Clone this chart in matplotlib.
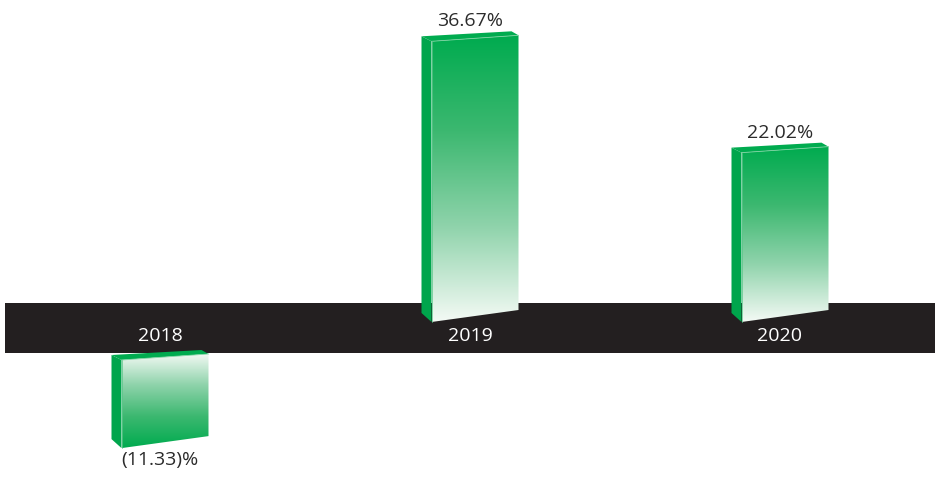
import matplotlib
matplotlib.use("Agg")
import matplotlib.pyplot as plt
import numpy as np
from matplotlib.colors import LinearSegmentedColormap
from matplotlib.patches import Polygon

years = ["2018", "2019", "2020"]
returns = [-11.33, 36.67, 22.02]
value_labels = ["(11.33)%", "36.67%", "22.02%"]

GREEN = "#00ab4f"
SIDE = "#00a54c"
BAND = "#231f20"
TEXT = "#2b2b2b"
FONT = "Open Sans"

FIG_W, FIG_H = 939, 481
PX_PER_CAT = 310.0   # horizontal pixels between category centres
PX_PER_PCT = 7.6     # vertical pixels per percentage point
X0_PX = 160          # pixel x of the first category centre
Y0_PX = 318          # pixel y (from top) of zero


def px_x(n):
    return n / PX_PER_CAT


def px_y(n):
    return n / PX_PER_PCT


grad_cmap = LinearSegmentedColormap.from_list(
    "fade", ["#f4faf5", "#8fd3ab", "#3cb870", GREEN], N=256
)

fig = plt.figure(figsize=(FIG_W / 100, FIG_H / 100), dpi=100)
ax = fig.add_axes([0, 0, 1, 1])
ax.set_xlim(-px_x(X0_PX), px_x(FIG_W - X0_PX))
ax.set_ylim(-px_y(FIG_H - Y0_PX), px_y(Y0_PX))
ax.axis("off")

band_top = px_y(14)
band_bottom = -px_y(36)
ax.axhspan(band_bottom, band_top, xmin=5 / FIG_W, xmax=935 / FIG_W,
           color=BAND, zorder=1, lw=0)

for i, (year, val, lab) in enumerate(zip(years, returns, value_labels)):
    if val >= 0:
        lo, hi = 0.0, val
    else:
        hi = band_bottom - px_y(4)
        lo = hi + val

    xl = i - px_x(48.5)
    xf = xl + px_x(10)
    xr = xl + px_x(97)
    bl, br = lo - px_y(5), lo + px_y(7)
    tl, tr = hi - px_y(3), hi + px_y(3)

    side = Polygon([(xl, bl + px_y(9)), (xf, bl), (xf, tl), (xl, tl + px_y(5))],
                   closed=True, fc=SIDE, ec="none", zorder=3)
    ax.add_patch(side)
    top = Polygon([(xl, tl + px_y(5)), (xf, tl), (xr, tr),
                   (xr - px_x(7), tr + px_y(4))],
                  closed=True, fc=GREEN, ec="none", zorder=3)
    ax.add_patch(top)

    front = Polygon([(xf, bl), (xr, br), (xr, tr), (xf, tl)],
                    closed=True, fc="none", ec="none", zorder=3)
    ax.add_patch(front)
    grad = np.linspace(0, 1, 256).reshape(-1, 1)
    if val < 0:
        grad = grad[::-1]
    im = ax.imshow(grad, cmap=grad_cmap, origin="lower", aspect="auto",
                   extent=(xf, xr, min(bl, br), max(tl, tr)),
                   interpolation="bilinear", zorder=3)
    im.set_clip_path(front)
    ax.plot([xf, xr], [tl, tr], color="#7fd4a3", lw=0.6, zorder=4)
    ax.plot([xf, xf], [bl, tl], color="#5cc68a", lw=0.5, zorder=4)

    if val >= 0:
        ax.text(i, hi + px_y(9), lab, ha="center", va="bottom",
                fontsize=14, color=TEXT, family=FONT)
    else:
        ax.text(i, lo - px_y(7), lab, ha="center", va="top",
                fontsize=14, color=TEXT, family=FONT)

    ax.text(i, -px_y(18), year, ha="center", va="center",
            fontsize=14, color="white", family=FONT, zorder=5)

fig.savefig("out.png", dpi=100, facecolor="white")
